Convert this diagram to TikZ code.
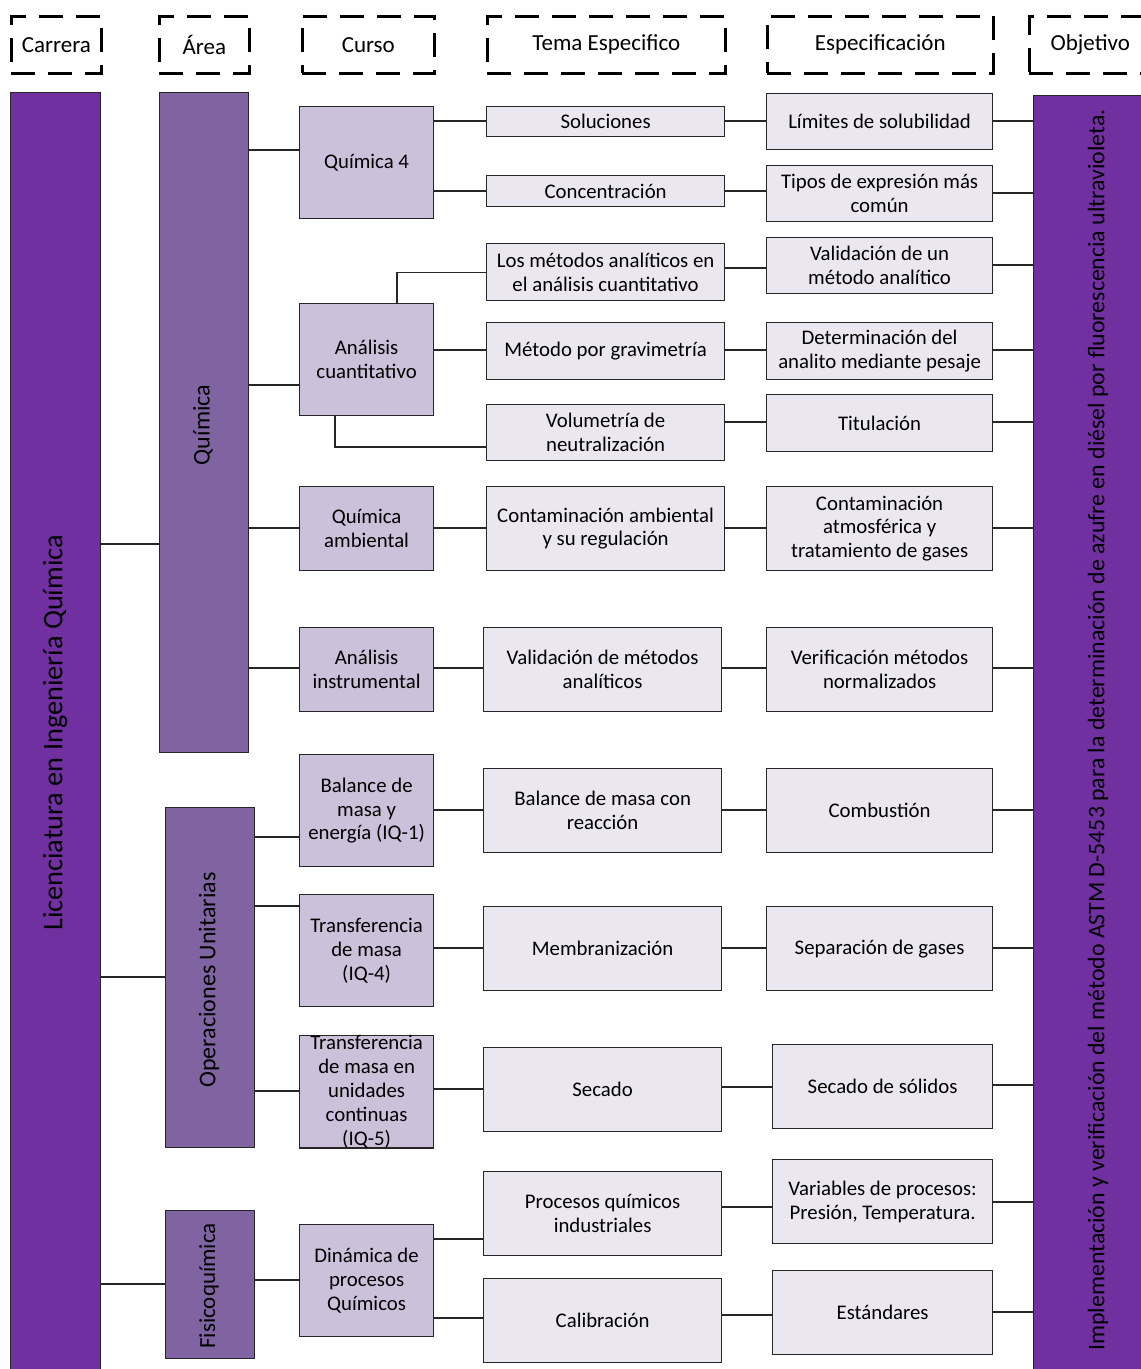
\documentclass[tikz,border=0pt]{standalone}
\usepackage{fontspec}
\setmainfont{Carlito}
\usetikzlibrary{calc}
\definecolor{carr}{HTML}{7030A0}
\definecolor{areac}{HTML}{8064A2}
\definecolor{cursoc}{HTML}{CCC1DA}
\definecolor{temac}{HTML}{EBE7F0}
\definecolor{edgec}{HTML}{262626}
\newcommand\mybox[7]{\node[#1, anchor=north west, minimum width={#5pt-#3pt}, minimum height={#6pt-#4pt}] (#2) at (#3,#4) {#7};}
\newcommand\hcon[3]{\draw[conn] (#1.east |- 0,#3) -- (#2.west |- 0,#3);}
\begin{document}
\begin{tikzpicture}[x=1pt,y=-1pt,
  basebox/.style={draw=edgec, line width=1.2pt, inner sep=0pt, align=center, font=\fontsize{20.8}{23.8}\selectfont},
  bigbar/.style={basebox, fill=carr},
  areabox/.style={basebox, fill=areac},
  cursobox/.style={basebox, fill=cursoc},
  temabox/.style={basebox, fill=temac},
  headbox/.style={draw=black, line width=2.6pt, dash pattern=on 24pt off 13pt, inner sep=0pt, align=center, font=\fontsize{23}{26}\selectfont},
  conn/.style={draw=edgec, line width=1.2pt},
  vtext/.style={rotate=90, inner sep=0pt, text=black}
]
\useasboundingbox (0,0) rectangle (1141,1369);
% headers
\mybox{headbox}{hCar}{10}{15}{100}{72}{Carrera}
\mybox{headbox}{hAre}{158}{15}{248}{72}{Área}
\mybox{headbox}{hCur}{301}{15}{433}{72}{Curso}
\mybox{headbox}{hTem}{486}{15}{724}{72}{Tema Especifico}
\mybox{headbox}{hEsp}{766}{15}{992}{72}{Especificación}
\mybox{headbox}{hObj}{1028}{15}{1150}{72}{Objetivo}
% big bars
\mybox{bigbar}{car}{10}{92}{100}{1380}{}
\node[vtext, font=\fontsize{28.3}{31}\selectfont] (carT) at (55,733) {Licenciatura en Ingeniería Química};
\mybox{bigbar}{obj}{1033}{95}{1165}{1380}{}
\node[vtext, font=\fontsize{23.8}{27}\selectfont] (objT) at (1098,730) {Implementación y verificación del método ASTM D-5453 para la determinación de azufre en diésel por fluorescencia ultravioleta.};
% areas
\mybox{areabox}{quim}{159}{92}{248}{752}{}
\node[vtext, font=\fontsize{24}{27}\selectfont] (quimT) at (203,425) {Química};
\mybox{areabox}{ou}{165}{807}{254}{1147}{}
\node[vtext, font=\fontsize{24}{27}\selectfont] (ouT) at (209,980) {Operaciones Unitarias};
\mybox{areabox}{fq}{165}{1210}{254}{1358}{}
\node[vtext, font=\fontsize{23}{26}\selectfont] (fqT) at (209,1286) {Fisicoquímica};
% cursos
\mybox{cursobox}{qa4}{299}{106}{433}{218}{Química 4}
\mybox{cursobox}{ac}{299}{303}{433}{415}{Análisis\\cuantitativo}
\mybox{cursobox}{qamb}{299}{486}{433}{570}{Química\\ambiental}
\mybox{cursobox}{ai}{299}{627}{433}{711}{Análisis\\instrumental}
\mybox{cursobox}{bal}{299}{754}{433}{866}{Balance de\\masa y\\energía (IQ-1)}
\mybox{cursobox}{tm4}{299}{894}{433}{1006}{Transferencia\\de masa\\(IQ-4)}
\mybox{cursobox}{tm5}{299}{1035}{433}{1147}{Transferencia\\de masa en\\unidades\\continuas\\(IQ-5)}
\mybox{cursobox}{din}{299}{1224}{433}{1336}{Dinámica de\\procesos\\Químicos}
% temas
\mybox{temabox}{sol}{486}{106}{724}{136}{Soluciones}
\mybox{temabox}{conc}{486}{175}{724}{206}{Concentración}
\mybox{temabox}{lm}{486}{243}{724}{300}{Los métodos analíticos en\\el análisis cuantitativo}
\mybox{temabox}{grav}{486}{322}{724}{379}{Método por gravimetría}
\mybox{temabox}{vol}{486}{404}{724}{460}{Volumetría de\\neutralización}
\mybox{temabox}{ca}{486}{486}{724}{570}{Contaminación ambiental\\y su regulación}
\mybox{temabox}{vm}{483}{627}{721}{711}{Validación de métodos\\analíticos}
\mybox{temabox}{bmr}{483}{768}{721}{852}{Balance de masa con\\reacción}
\mybox{temabox}{memb}{483}{906}{721}{990}{Membranización}
\mybox{temabox}{sec}{483}{1047}{721}{1131}{Secado}
\mybox{temabox}{proc}{483}{1171}{721}{1255}{Procesos químicos\\industriales}
\mybox{temabox}{cal}{483}{1278}{721}{1362}{Calibración}
% especificaciones
\mybox{temabox}{lim}{766}{93}{992}{149}{Límites de solubilidad}
\mybox{temabox}{tip}{766}{165}{992}{221}{Tipos de expresión más\\común}
\mybox{temabox}{vu}{766}{237}{992}{293}{Validación de un\\método analítico}
\mybox{temabox}{det}{766}{322}{992}{379}{Determinación del\\analito mediante pesaje}
\mybox{temabox}{tit}{766}{394}{992}{451}{Titulación}
\mybox{temabox}{cont}{766}{486}{992}{570}{Contaminación\\atmosférica y\\tratamiento de gases}
\mybox{temabox}{ver}{766}{627}{992}{711}{Verificación métodos\\normalizados}
\mybox{temabox}{comb}{766}{768}{992}{852}{Combustión}
\mybox{temabox}{sep}{766}{906}{992}{990}{Separación de gases}
\mybox{temabox}{secs}{772}{1044}{992}{1128}{Secado de sólidos}
\mybox{temabox}{var}{772}{1159}{992}{1243}{Variables de procesos:\\Presión, Temperatura.}
\mybox{temabox}{est}{772}{1270}{992}{1354}{Estándares}
% connectors: carrera -> areas
\hcon{car}{quim}{544}
\hcon{car}{ou}{977}
\hcon{car}{fq}{1284}
% areas -> cursos
\hcon{quim}{qa4}{150}
\hcon{quim}{ac}{385}
\hcon{quim}{qamb}{528}
\hcon{quim}{ai}{668}
\hcon{ou}{bal}{837}
\hcon{ou}{tm4}{906}
\hcon{ou}{tm5}{1091}
\hcon{fq}{din}{1280}
% cursos -> temas
\hcon{qa4}{sol}{121}
\hcon{qa4}{conc}{191}
\draw[conn] (ac.north -| 397,0) |- (lm.west);
\hcon{ac}{grav}{350}
\draw[conn] (ac.south -| 335,0) |- (vol.west |- 0,447);
\hcon{qamb}{ca}{528}
\hcon{ai}{vm}{668}
\hcon{bal}{bmr}{810}
\hcon{tm4}{memb}{948}
\hcon{tm5}{sec}{1089}
\hcon{din}{proc}{1239}
\hcon{din}{cal}{1318}
% temas -> especificaciones
\hcon{sol}{lim}{121}
\hcon{conc}{tip}{191}
\hcon{lm}{vu}{268}
\hcon{grav}{det}{350}
\hcon{vol}{tit}{422}
\hcon{ca}{cont}{528}
\hcon{vm}{ver}{668}
\hcon{bmr}{comb}{810}
\hcon{memb}{sep}{948}
\hcon{sec}{secs}{1087}
\hcon{proc}{var}{1207}
\hcon{cal}{est}{1315}
% especificaciones -> objetivo
\hcon{lim}{obj}{121}
\hcon{tip}{obj}{193}
\hcon{vu}{obj}{265}
\hcon{det}{obj}{350}
\hcon{tit}{obj}{422}
\hcon{cont}{obj}{528}
\hcon{ver}{obj}{668}
\hcon{comb}{obj}{810}
\hcon{sep}{obj}{948}
\hcon{secs}{obj}{1085}
\hcon{var}{obj}{1202}
\hcon{est}{obj}{1312}
\end{tikzpicture}
\end{document}
